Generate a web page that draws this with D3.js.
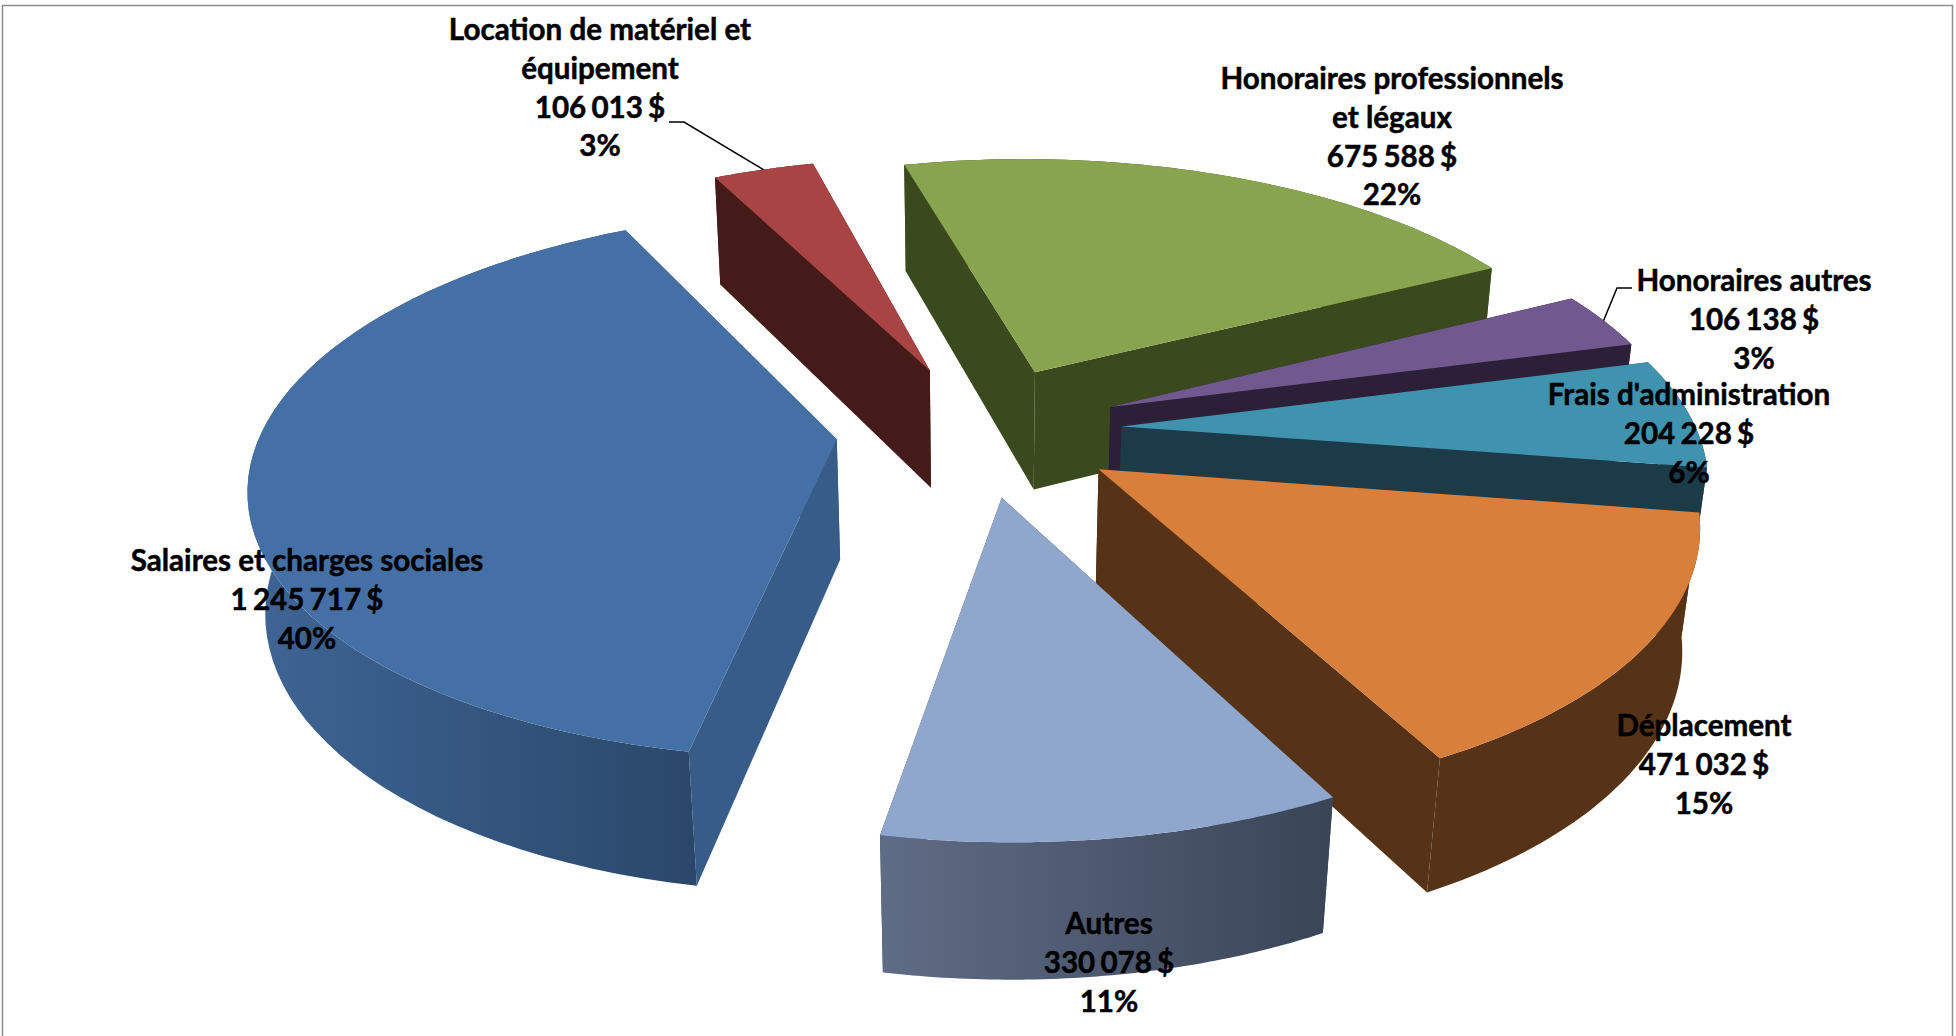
<!DOCTYPE html>
<html>
<head>
<meta charset="utf-8">
<script src="https://cdn.jsdelivr.net/npm/d3@7"></script>
<style>
  html, body { margin: 0; padding: 0; background: #fff; overflow: hidden; }
  text { font-family: Lato, "Open Sans", sans-serif; font-weight: 700; fill: #000; stroke: #000; stroke-width: 0.5px; }
</style>
</head>
<body>
<svg id="chart" width="1956" height="1036"></svg>
<script>
// Data
const categories = ["Salaires et charges sociales", "Location de matériel et équipement", "Honoraires professionnels et légaux", "Honoraires autres", "Frais d'administration", "Déplacement", "Autres"];
const amounts = [1245717, 106013, 675588, 106138, 204228, 471032, 330078];
const amountLabels = ["1 245 717 $", "106 013 $", "675 588 $", "106 138 $", "204 228 $", "471 032 $", "330 078 $"];
const percentLabels = ["40%", "3%", "22%", "3%", "6%", "15%", "11%"];

// Colours per slice
const topColors = ["#4570a5", "#a84544", "#88a44e", "#71588f", "#3f93ae", "#d77f3b", "#90a7cd"];
const wallLeft = ["#3d6494", "#441b19", "#3b4a1e", "#2c2038", "#1b3b48", "#563216", "#5f6c85"];
const wallRight = ["#2a4769", "#441b19", "#3b4a1e", "#2c2038", "#1b3b48", "#563216", "#3b4558"];
const cutColors = ["#375c88", "#441b19", "#3b4a1e", "#2c2038", "#1b3b48", "#563216", "#3b4558"];

// Label placement: centre x, y of first line, wrapped text
const labelLayout = [
    {x: 307, y: 561, lines: ["Salaires et charges sociales"]},
    {x: 600, y: 30, lines: ["Location de matériel et", "équipement"]},
    {x: 1392, y: 79, lines: ["Honoraires professionnels", "et légaux"]},
    {x: 1754, y: 281, lines: ["Honoraires autres"]},
    {x: 1689, y: 395, lines: ["Frais d'administration"]},
    {x: 1704, y: 726, lines: ["Déplacement"]},
    {x: 1109, y: 924, lines: ["Autres"]}
];
// Leader lines: text side elbow, for the two thin slices
const leaders = [
    {slice: 1, from: [669, 122], elbow: [684, 122]},
    {slice: 3, from: [1632, 288], elbow: [1617, 288]}
];

const svg = d3.select("#chart");

// Chart frame
svg.append("rect")
    .attr("x", 2.5).attr("y", 5.5)
    .attr("width", 1950).attr("height", 1060)
    .attr("fill", "none").attr("stroke", "#8c8c8c").attr("stroke-width", 1.5);

// Projection of the tilted pie
const proj = {cx: 979, cy: 430, radius: 575, explode: 143, tilt: 0.46, persp: 0.00028, shear: 0.008, thick: 123, perspThick: 0.024, startDeg: 190.6};

function project(x, y, d) {
    const w = 1 + proj.persp * y + proj.perspThick * d;
    return [proj.cx + (x - proj.shear * y) / w, proj.cy + (-proj.tilt * y + proj.thick * d) / w];
}

const pie = d3.pie()
    .sort(null)
    .startAngle(proj.startDeg * Math.PI / 180)
    .endAngle((proj.startDeg + 360) * Math.PI / 180);

const slices = pie(amounts).map((s, i) => {
    const mid = (s.startAngle + s.endAngle) / 2;
    const tip = [proj.explode * Math.sin(mid), proj.explode * Math.cos(mid)];
    const rim = d3.range(0, 61).map(k => {
        const a = s.startAngle + (s.endAngle - s.startAngle) * k / 60;
        return [tip[0] + proj.radius * Math.sin(a), tip[1] + proj.radius * Math.cos(a)];
    });
    return {i, tip, rim};
});

const line = d3.line();
const closed = pts => line(pts) + "Z";

const defs = svg.append("defs");
// back to front
const drawOrder = [1, 2, 3, 4, 5, 0, 6];

drawOrder.forEach(i => {
    const s = slices[i];
    const g = svg.append("g").attr("class", "slice");
    // teal wall only shows above the orange slice, keep it from poking out on the right
    const depth = i === 4 ? 0.65 : 1;
    const topPts = s.rim.map(p => project(p[0], p[1], 0));
    const botPts = s.rim.map(p => project(p[0], p[1], depth));
    const tipTop = project(s.tip[0], s.tip[1], 0);
    const tipBot = project(s.tip[0], s.tip[1], depth);

    const xs = botPts.map(p => p[0]);
    const grad = defs.append("linearGradient")
        .attr("id", "wall" + i)
        .attr("gradientUnits", "userSpaceOnUse")
        .attr("x1", d3.min(xs)).attr("x2", d3.max(xs))
        .attr("y1", 0).attr("y2", 0);
    grad.append("stop").attr("offset", 0).attr("stop-color", wallLeft[i]);
    grad.append("stop").attr("offset", 1).attr("stop-color", wallRight[i]);

    // cut walls
    [0, s.rim.length - 1].forEach(k => {
        g.append("path")
            .attr("d", closed([tipTop, topPts[k], botPts[k], tipBot]))
            .attr("fill", cutColors[i]);
    });
    // outer wall
    g.append("path")
        .attr("d", closed(topPts.concat(botPts.slice().reverse())))
        .attr("fill", `url(#wall${i})`);
    // top face
    g.append("path")
        .attr("d", closed([tipTop].concat(topPts)))
        .attr("fill", topColors[i]);
});

// Leader lines
leaders.forEach(l => {
    const s = slices[l.slice];
    const end = s.rim[30];
    svg.append("path")
        .attr("d", line([l.from, l.elbow, project(end[0], end[1], 0)]))
        .attr("fill", "none").attr("stroke", "#000").attr("stroke-width", 1.5);
});

// Data labels
const lineGap = 38.7;
labelLayout.forEach((l, i) => {
    const rows = l.lines.concat([amountLabels[i], percentLabels[i]]);
    svg.append("text")
        .attr("text-anchor", "middle")
        .attr("font-size", 29.6)
        .selectAll("tspan")
        .data(rows)
        .join("tspan")
        .attr("x", l.x)
        .attr("y", (d, k) => l.y + k * lineGap)
        .attr("dy", "0.35em")
        .attr("word-spacing", d => amountLabels.includes(d) ? -2 : 0)
        .text(d => d);
});
</script>
</body>
</html>
